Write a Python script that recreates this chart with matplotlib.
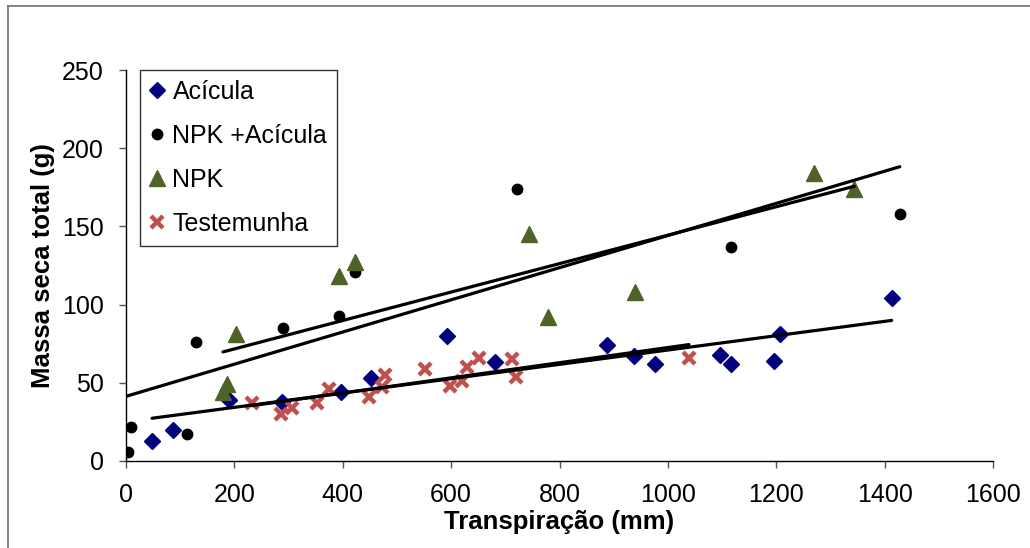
import numpy as np
import matplotlib
matplotlib.use("Agg")
import matplotlib.pyplot as plt
from matplotlib.lines import Line2D

plt.rcParams['font.family'] = ['Liberation Sans', 'DejaVu Sans']

# Transpiração (mm) e massa seca total (g) por tratamento
acicula_x = [48, 86, 190, 288, 396, 452, 592, 681, 888, 938, 977, 1097, 1116, 1196, 1206, 1413]
acicula_y = [13, 20, 39, 38, 44, 53, 80, 63, 74, 67, 62, 68, 62, 64, 81, 104]

npk_acicula_x = [3, 9, 112, 130, 290, 393, 423, 721, 1116, 1428]
npk_acicula_y = [6, 22, 17, 76, 85, 93, 121, 174, 137, 158]

npk_x = [179, 186, 203, 393, 423, 744, 779, 939, 1270, 1344]
npk_y = [44, 49, 81, 118, 127, 145, 92, 108, 184, 174]

testemunha_x = [233, 286, 307, 353, 374, 448, 472, 478, 552, 598, 620, 629, 651, 712, 719, 1039]
testemunha_y = [37, 30, 34, 37, 46, 41, 47, 55, 59, 48, 51, 60, 66, 65, 54, 66]

x_ticks = [0, 200, 400, 600, 800, 1000, 1200, 1400, 1600]
y_ticks = [0, 50, 100, 150, 200, 250]

fig = plt.figure(figsize=(10.30, 5.48), dpi=100)
ax = fig.add_axes([126 / 1030, 1 - 461 / 548, (993 - 126) / 1030, (461 - 70) / 548])

series = [
    ("Acícula", acicula_x, acicula_y, dict(marker="D", color="#000080", ms=8.0, ls="none")),
    ("NPK +Acícula", npk_acicula_x, npk_acicula_y, dict(marker="o", color="black", ms=7.5, ls="none")),
    ("NPK", npk_x, npk_y, dict(marker="^", color="#4F6228", ms=11, ls="none")),
    ("Testemunha", testemunha_x, testemunha_y, dict(marker="x", color="#C0504D", ms=8.5, mew=3.2, ls="none")),
]

handles = []
for name, xs, ys, style in series:
    h, = ax.plot(xs, ys, label=name, zorder=3, **style)
    handles.append(h)

# Linear trend lines for each treatment
trend_ranges = {
    "Acícula": (min(acicula_x), max(acicula_x)),
    "NPK +Acícula": (0, max(npk_acicula_x)),
    "NPK": (min(npk_x), max(npk_x)),
    "Testemunha": (min(testemunha_x), max(testemunha_x)),
}
for name, xs, ys, _ in series:
    slope, intercept = np.polyfit(xs, ys, 1)
    x0, x1 = trend_ranges[name]
    xx = np.array([x0, x1])
    ax.plot(xx, slope * xx + intercept, color="black", lw=2.3, zorder=4,
            solid_capstyle="round")

ax.set_xlim(0, 1600)
ax.set_ylim(0, 250)
ax.set_xticks(x_ticks)
ax.set_yticks(y_ticks)
ax.spines["top"].set_visible(False)
ax.spines["right"].set_visible(False)
ax.spines["left"].set_linewidth(1.0)
ax.spines["bottom"].set_linewidth(1.0)
ax.tick_params(axis="both", direction="out", length=5, width=1.0,
               color="#555555", labelsize=18)
ax.tick_params(axis="x", pad=11)
ax.tick_params(axis="y", pad=11)

ax.set_xlabel("Transpiração (mm)", fontsize=18.5, fontweight="bold", labelpad=2)
ax.set_ylabel("Massa seca total (g)", fontsize=18.5, fontweight="bold", labelpad=5)

leg = ax.legend(handles=handles, loc="upper left",
                bbox_to_anchor=(140 / 1030, 1 - 70 / 548),
                bbox_transform=fig.transFigure,
                fontsize=18, frameon=True, fancybox=False, shadow=False,
                handlelength=0.55, handletextpad=0.35, labelspacing=0.8,
                borderpad=0.4, borderaxespad=0, markerscale=1.0)
leg.get_frame().set_edgecolor("black")
leg.get_frame().set_linewidth(1.0)

# Outer chart border (left and top edges)
fig.add_artist(Line2D([8 / 1030, 8 / 1030], [0, 1 - 6 / 548], transform=fig.transFigure,
                      color="#707070", lw=1.2))
fig.add_artist(Line2D([8 / 1030, 1], [1 - 6 / 548, 1 - 6 / 548], transform=fig.transFigure,
                      color="#707070", lw=1.2))

fig.savefig("out.png", dpi=100)
